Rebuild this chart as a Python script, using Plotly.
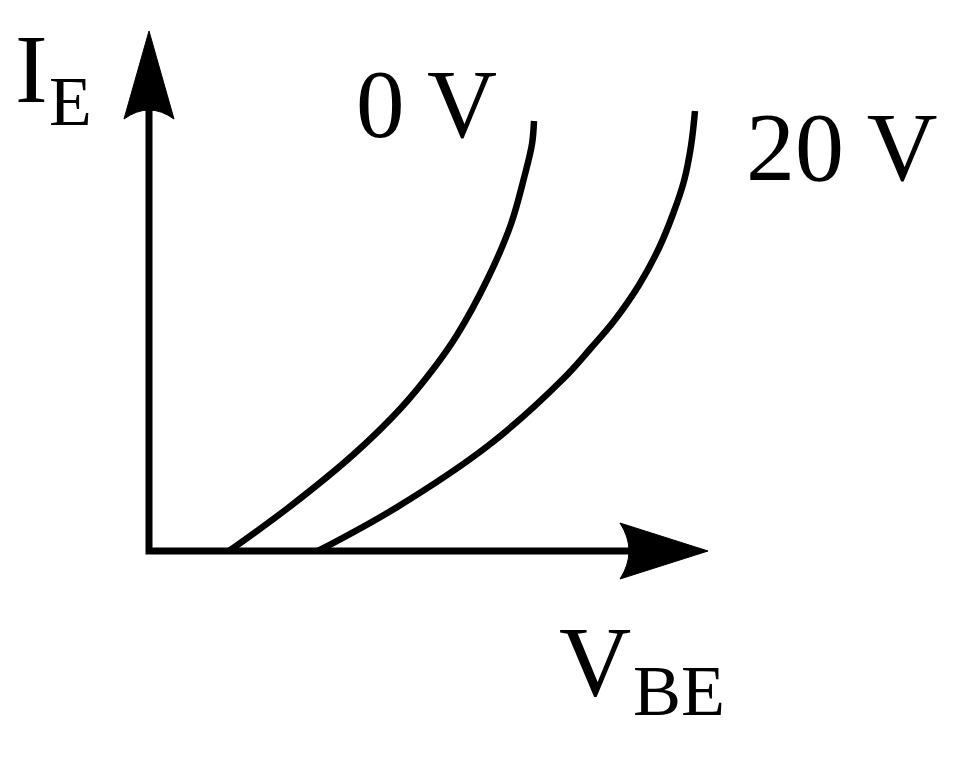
import plotly.graph_objects as go

# Schematic data (arbitrary units: V_BE horizontal, I_E vertical)
vbe_0v = [80, 139, 205, 252, 285, 308, 339, 362, 375, 383, 385]
ie_0v = [0, 43, 97, 143, 183, 216, 273, 327, 373, 407, 430]
vbe_20v = [169, 245, 340, 415, 442, 465, 490, 510, 524, 535, 542, 546]
ie_20v = [0, 42, 106, 173, 203, 230, 266, 303, 337, 370, 405, 440]
curve_labels = ["0 V", "20 V"]

x_axis_end = 559
y_axis_end = 520

FONT = "Liberation Serif, Times New Roman, serif"
fig = go.Figure()

# axes
fig.add_trace(go.Scatter(x=[0, 0, x_axis_end - 60], y=[y_axis_end - 60, 0, 0], mode="lines",
                         line=dict(color="black", width=7), showlegend=False, hoverinfo="skip"))
for vx, vy in [(vbe_0v, ie_0v), (vbe_20v, ie_20v)]:
    fig.add_trace(go.Scatter(x=vx, y=vy, mode="lines",
                             line=dict(color="black", width=6.5, shape="spline", smoothing=1.0),
                             showlegend=False, hoverinfo="skip"))

# arrowheads
fig.add_shape(type="path", xref="x", yref="y",
              path=f"M 0 {y_axis_end} L 25 {y_axis_end-88} Q 0 {y_axis_end-70} -25 {y_axis_end-88} Z",
              fillcolor="black", line=dict(color="black", width=1))
fig.add_shape(type="path", xref="x", yref="y",
              path=f"M {x_axis_end} 0 L {x_axis_end-88} 28 Q {x_axis_end-70} 0 {x_axis_end-88} -28 Z",
              fillcolor="black", line=dict(color="black", width=1))

def txt(x, y, s, size):
    fig.add_annotation(x=x, y=y, xref="x", yref="y", text=s, showarrow=False,
                       xanchor="left", yanchor="middle", font=dict(family=FONT, size=size, color="black"))

txt(-136, 482, "I", 98)
txt(-102, 450, "E", 70)
txt(205, 447, curve_labels[0], 97)
txt(595, 404, curve_labels[1], 98)
txt(408, -110, "V", 100)
txt(482, -140, "BE", 72)

fig.update_layout(width=962, height=757, margin=dict(l=0, r=0, t=0, b=0),
                  plot_bgcolor="white", paper_bgcolor="white",
                  xaxis=dict(range=[-141, 821], visible=False),
                  yaxis=dict(range=[-214, 543], visible=False))
fig.write_html("out.html")
